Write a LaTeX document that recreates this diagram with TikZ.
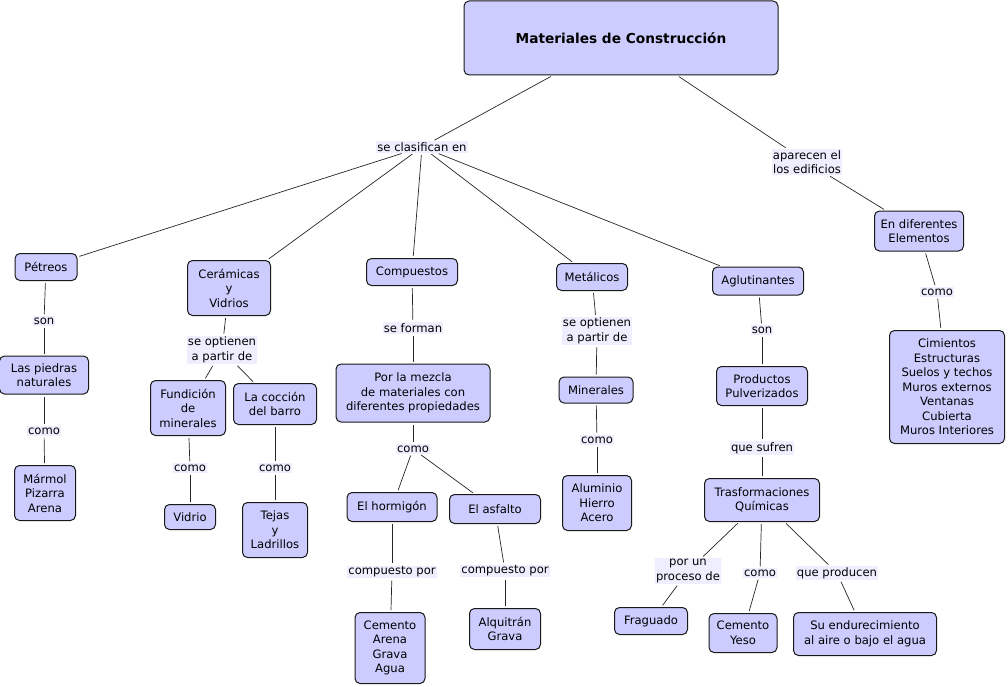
\documentclass[tikz,border=0pt]{standalone}
\usepackage{fontspec}
\setmainfont{DejaVu Sans}
\definecolor{cfill}{HTML}{CCCCFF}
\definecolor{lfill}{HTML}{EEEEFF}
\begin{document}
\begin{tikzpicture}[x=1pt,y=-1pt,
  concept/.style={draw=black!90, line width=1pt, fill=cfill, rounded corners=5pt, align=center, inner sep=0pt, font=\fontsize{11.6}{14.5}\selectfont},
  lbl/.style={fill=lfill, align=center, inner sep=1.2pt, font=\fontsize{11.6}{14.5}\selectfont},
  conn/.style={draw=black!85, line width=0.7pt, shorten <=2pt, shorten >=2pt}]
\useasboundingbox[fill=white] (0,0) rectangle (1008,687);
% concepts
\node[concept, minimum width=314pt, minimum height=74pt, font=\bfseries\fontsize{13.7}{16}\selectfont] (main) at (621,38) {Materiales de Construcción};
\node[concept, minimum width=62pt, minimum height=27pt] (pet) at (46,267) {Pétreos};
\node[concept, minimum width=83pt, minimum height=55pt] (cer) at (229,288) {Cerámicas\\y\\Vidrios};
\node[concept, minimum width=91pt, minimum height=27pt] (comp) at (412,272) {Compuestos};
\node[concept, minimum width=71pt, minimum height=27pt] (met) at (592,277) {Metálicos};
\node[concept, minimum width=91pt, minimum height=28pt] (aglu) at (758,281) {Aglutinantes};
\node[concept, minimum width=89pt, minimum height=40pt] (elem) at (919,231) {En diferentes\\Elementos};
\node[concept, minimum width=89pt, minimum height=38pt] (piedras) at (44,375) {Las piedras\\naturales};
\node[concept, minimum width=61pt, minimum height=55pt] (marmol) at (45,493) {Mármol\\Pizarra\\Arena};
\node[concept, minimum width=75pt, minimum height=55pt] (fund) at (188,408) {Fundición\\de\\minerales};
\node[concept, minimum width=83pt, minimum height=41pt] (coc) at (275,404) {La cocción\\del barro};
\node[concept, minimum width=51pt, minimum height=25pt] (vidrio) at (190,517) {Vidrio};
\node[concept, minimum width=65pt, minimum height=55pt] (tejas) at (275,530) {Tejas\\y\\Ladrillos};
\node[concept, minimum width=154pt, minimum height=58pt] (mezcla) at (413,393) {Por la mezcla\\de materiales con\\diferentes propiedades};
\node[concept, minimum width=90pt, minimum height=29pt] (horm) at (392,507) {El hormigón};
\node[concept, minimum width=91pt, minimum height=29pt] (asf) at (495,509) {El asfalto};
\node[concept, minimum width=70pt, minimum height=71pt] (cemar) at (390,648) {Cemento\\Arena\\Grava\\Agua};
\node[concept, minimum width=71pt, minimum height=41pt] (alq) at (505,629) {Alquitrán\\Grava};
\node[concept, minimum width=74pt, minimum height=26pt] (miner) at (596,390) {Minerales};
\node[concept, minimum width=69pt, minimum height=55pt] (alum) at (597,503) {Aluminio\\Hierro\\Acero};
\node[concept, minimum width=91pt, minimum height=39pt] (prod) at (762,386) {Productos\\Pulverizados};
\node[concept, minimum width=115pt, minimum height=43pt] (tras) at (762,500) {Trasformaciones\\Químicas};
\node[concept, minimum width=73pt, minimum height=27pt] (frag) at (651,621) {Fraguado};
\node[concept, minimum width=68pt, minimum height=39pt] (cemy) at (743,633) {Cemento\\Yeso};
\node[concept, minimum width=143pt, minimum height=43pt] (endu) at (865,634) {Su endurecimiento\\al aire o bajo el agua};
\node[concept, minimum width=115pt, minimum height=113pt] (cim) at (947,387) {Cimientos\\Estructuras\\Suelos y techos\\Muros externos\\Ventanas\\Cubierta\\Muros Interiores};
% labels
\node[lbl] (l1) at (422,147) {se clasifican en};
\node[lbl] (l2) at (807,162) {aparecen el\\los edificios};
\node[lbl] (l3) at (44,321) {son};
\node[lbl] (l4) at (44,431) {como};
\node[lbl] (l5) at (222,350) {se optienen\\a partir de};
\node[lbl] (l6) at (190,468) {como};
\node[lbl] (l7) at (275,468) {como};
\node[lbl] (l8) at (413,328) {se forman};
\node[lbl] (l9) at (413,449) {como};
\node[lbl] (l10) at (392,572) {compuesto por};
\node[lbl] (l11) at (505,571) {compuesto por};
\node[lbl] (l12) at (597,331) {se optienen\\a partir de};
\node[lbl] (l13) at (597,440) {como};
\node[lbl] (l14) at (762,330) {son};
\node[lbl] (l15) at (762,448) {que sufren};
\node[lbl] (l16) at (688,571) {por un\\proceso de};
\node[lbl] (l17) at (760,573) {como};
\node[lbl] (l18) at (837,573) {que producen};
\node[lbl] (l19) at (937,292) {como};
% connectors
\path[conn] (main) -- (l1);
\path[conn] (main) -- (l2);
\path[conn] (l2) -- (elem);
\path[conn] (l1) -- (pet);
\path[conn] (l1) -- (cer);
\path[conn] (l1) -- (comp);
\path[conn] (l1) -- (met);
\path[conn] (l1) -- (aglu);
\path[conn] (pet) -- (l3);
\path[conn] (l3) -- (piedras);
\path[conn] (piedras) -- (l4);
\path[conn] (l4) -- (marmol);
\path[conn] (cer) -- (l5);
\path[conn] (l5) -- (fund);
\path[conn] (l5) -- (coc);
\path[conn] (fund) -- (l6);
\path[conn] (l6) -- (vidrio);
\path[conn] (coc) -- (l7);
\path[conn] (l7) -- (tejas);
\path[conn] (comp) -- (l8);
\path[conn] (l8) -- (mezcla);
\path[conn] (mezcla) -- (l9);
\path[conn] (l9) -- (horm);
\path[conn] (l9) -- (asf);
\path[conn] (horm) -- (l10);
\path[conn] (l10) -- (cemar);
\path[conn] (asf) -- (l11);
\path[conn] (l11) -- (alq);
\path[conn] (met) -- (l12);
\path[conn] (l12) -- (miner);
\path[conn] (miner) -- (l13);
\path[conn] (l13) -- (alum);
\path[conn] (aglu) -- (l14);
\path[conn] (l14) -- (prod);
\path[conn] (prod) -- (l15);
\path[conn] (l15) -- (tras);
\path[conn] (tras) -- (l16);
\path[conn] (l16) -- (frag);
\path[conn] (tras) -- (l17);
\path[conn] (l17) -- (cemy);
\path[conn] (tras) -- (l18);
\path[conn] (l18) -- (endu);
\path[conn] (elem) -- (l19);
\path[conn] (l19) -- (cim);
\end{tikzpicture}
\end{document}
